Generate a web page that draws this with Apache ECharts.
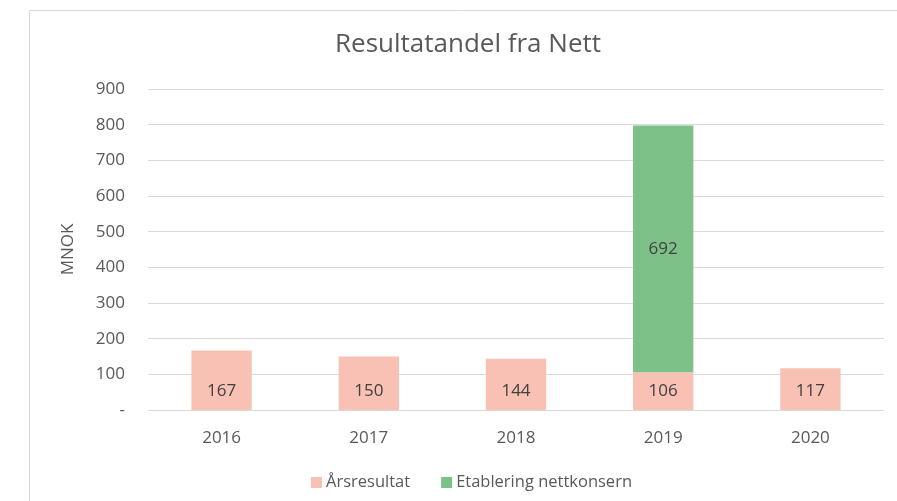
<!DOCTYPE html>
<html>
<head>
<meta charset="utf-8">
<script src="https://cdn.jsdelivr.net/npm/echarts@6/dist/echarts.min.js"></script>
<style>html,body{margin:0;padding:0;background:#fff;}#c{width:897px;height:501px;}</style>
</head>
<body>
<div id="c"></div>
<script>
const titleText = 'Resultatandel fra Nett';
const categories = ['2016', '2017', '2018', '2019', '2020'];
const seriesNames = ['Årsresultat', 'Etablering nettkonsern'];
const arsresultat = [167, 150, 144, 106, 117];
const etablering = [null, null, null, 692, null];
const yTicks = [0, 100, 200, 300, 400, 500, 600, 700, 800, 900];
const yAxisName = 'MNOK';

const FONT = '"Open Sans", sans-serif';
const chart = echarts.init(document.getElementById('c'), null, {renderer: 'canvas'});
chart.setOption({
  animation: false,
  backgroundColor: '#fff',
  textStyle: {fontFamily: FONT},
  graphic: [{
    type: 'rect', silent: true, z: -1,
    shape: {x: 29.5, y: 10.5, width: 900, height: 520},
    style: {fill: 'none', stroke: '#d9d9d9', lineWidth: 1}
  }],
  title: {
    text: titleText, left: 463, textAlign: 'center', top: 27,
    textStyle: {fontFamily: FONT, fontSize: 26, fontWeight: 'normal', color: '#595959'}
  },
  legend: {
    top: 469, left: 306, itemWidth: 11, itemHeight: 11, itemGap: 31,
    icon: 'rect',
    textStyle: {fontFamily: FONT, fontSize: 16.5, color: '#595959', padding: [0, 0, 0, -1]},
    data: seriesNames
  },
  grid: {left: 148, right: 13, top: 89, bottom: 91, containLabel: false},
  xAxis: {
    type: 'category', data: categories,
    axisLine: {show: true, lineStyle: {color: '#d9d9d9'}},
    axisTick: {show: false},
    axisLabel: {fontFamily: FONT, fontSize: 17, color: '#595959', margin: 20}
  },
  yAxis: {
    type: 'value', min: 0, max: 900, interval: 100,
    name: yAxisName, nameLocation: 'middle', nameGap: 71, nameRotate: 90,
    nameTextStyle: {fontFamily: FONT, fontSize: 17, color: '#595959'},
    axisLine: {show: false}, axisTick: {show: false},
    splitLine: {lineStyle: {color: '#d9d9d9', width: 1}},
    axisLabel: {
      fontFamily: FONT, fontSize: 17, color: '#595959', margin: 23,
      formatter: v => yTicks.indexOf(v) === 0 ? '-' : String(v)
    }
  },
  series: [
    {
      name: seriesNames[0], type: 'bar', stack: 's', data: arsresultat,
      barWidth: '41%',
      itemStyle: {color: '#F8C1B3'},
      label: {show: true, position: 'insideBottom', distance: 10,
        fontFamily: FONT, fontSize: 17, color: '#404040'}
    },
    {
      name: seriesNames[1], type: 'bar', stack: 's', data: etablering,
      barWidth: '41%',
      itemStyle: {color: '#7DC189'},
      label: {show: true, position: 'inside',
        fontFamily: FONT, fontSize: 17, color: '#404040'}
    }
  ]
});
</script>
</body>
</html>
